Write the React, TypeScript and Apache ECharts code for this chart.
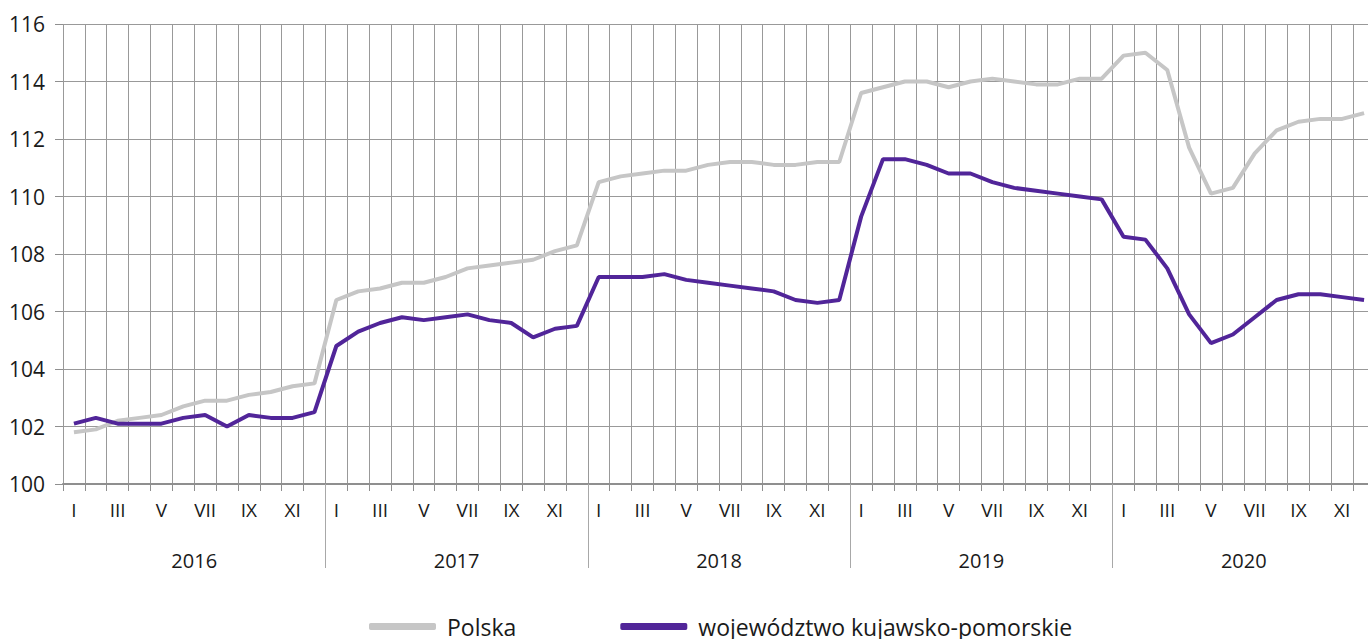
import React, { useEffect, useRef } from "react";
import * as echarts from "echarts";

const years = ["2016", "2017", "2018", "2019", "2020"];
const months = ["I", "II", "III", "IV", "V", "VI", "VII", "VIII", "IX", "X", "XI", "XII"];

const polska = [
  101.8, 101.9, 102.2, 102.3, 102.4, 102.7, 102.9, 102.9, 103.1, 103.2, 103.4, 103.5,
  106.4, 106.7, 106.8, 107.0, 107.0, 107.2, 107.5, 107.6, 107.7, 107.8, 108.1, 108.3,
  110.5, 110.7, 110.8, 110.9, 110.9, 111.1, 111.2, 111.2, 111.1, 111.1, 111.2, 111.2,
  113.6, 113.8, 114.0, 114.0, 113.8, 114.0, 114.1, 114.0, 113.9, 113.9, 114.1, 114.1,
  114.9, 115.0, 114.4, 111.7, 110.1, 110.3, 111.5, 112.3, 112.6, 112.7, 112.7, 112.9,
];

const kujawsko = [
  102.1, 102.3, 102.1, 102.1, 102.1, 102.3, 102.4, 102.0, 102.4, 102.3, 102.3, 102.5,
  104.8, 105.3, 105.6, 105.8, 105.7, 105.8, 105.9, 105.7, 105.6, 105.1, 105.4, 105.5,
  107.2, 107.2, 107.2, 107.3, 107.1, 107.0, 106.9, 106.8, 106.7, 106.4, 106.3, 106.4,
  109.3, 111.3, 111.3, 111.1, 110.8, 110.8, 110.5, 110.3, 110.2, 110.1, 110.0, 109.9,
  108.6, 108.5, 107.5, 105.9, 104.9, 105.2, 105.8, 106.4, 106.6, 106.6, 106.5, 106.4,
];

const seriesNames = ["Polska", "województwo kujawsko-pomorskie"];
const yTicks = { min: 100, max: 116, interval: 2 };

const FONT = "'Open Sans', 'Noto Sans', sans-serif";

export default function App() {
  const ref = useRef<HTMLDivElement>(null);

  useEffect(() => {
    document.body.style.margin = "0";
    if (!ref.current) return;
    const chart = echarts.init(ref.current, null, { renderer: "svg" });
    const monthCats: string[] = [];
    years.forEach((y) => months.forEach((m) => monthCats.push(y + "-" + m)));

    chart.setOption({
      animation: false,
      textStyle: { fontFamily: FONT },
      grid: {
        left: 63,
        width: 1312,
        top: 24,
        height: 460,
        containLabel: false,
        outerBoundsMode: "none",
      },
      legend: {
        left: 364,
        top: 610,
        itemWidth: 67,
        itemHeight: 7,
        itemGap: 104,
        icon: "roundRect",
        textStyle: { fontSize: 23, color: "#1a1a1a", fontFamily: FONT, padding: [0, 0, 0, 6] },
        data: seriesNames,
      },
      xAxis: [
        {
          type: "category",
          data: monthCats,
          boundaryGap: true,
          axisLine: { show: true, lineStyle: { color: "#8f8f8f", width: 2 } },
          axisTick: { show: true, interval: 0, length: 7, lineStyle: { color: "#8f8f8f", width: 1 } },
          axisLabel: {
            interval: 1,
            margin: 16,
            fontSize: 19,
            color: "#1a1a1a",
            fontFamily: FONT,
            formatter: (v: string) => v.split("-")[1],
          },
          splitLine: { show: true, interval: 0, lineStyle: { color: "#999999", width: 1 } },
        },
        {
          type: "category",
          data: years,
          position: "bottom",
          boundaryGap: true,
          axisLine: { show: false },
          axisTick: {
            show: true,
            length: 84,
            interval: (i: number) => i > 0,
            lineStyle: { color: "#a8a8a8", width: 1 },
          },
          axisLabel: { interval: 0, margin: 66, fontSize: 20, color: "#1a1a1a", fontFamily: FONT },
          splitLine: { show: false },
        },
      ],
      yAxis: {
        type: "value",
        min: yTicks.min,
        max: yTicks.max,
        interval: yTicks.interval,
        axisLine: { show: false },
        axisTick: { show: true, length: 8, lineStyle: { color: "#8f8f8f" } },
        axisLabel: { margin: 18, fontSize: 21, color: "#1a1a1a", fontFamily: FONT },
        splitLine: { show: true, lineStyle: { color: "#999999", width: 1 } },
      },
      series: [
        {
          name: seriesNames[0],
          type: "line",
          xAxisIndex: 0,
          data: polska,
          showSymbol: false,
          symbol: "none",
          lineStyle: { color: "#c6c6c6", width: 4 },
          itemStyle: { color: "#c6c6c6" },
          z: 3,
        },
        {
          name: seriesNames[1],
          type: "line",
          xAxisIndex: 0,
          data: kujawsko,
          showSymbol: false,
          symbol: "none",
          lineStyle: { color: "#512599", width: 4 },
          itemStyle: { color: "#512599" },
          z: 4,
        },
      ],
    });
    return () => chart.dispose();
  }, []);

  return <div ref={ref} style={{ width: 1368, height: 639 }} />;
}
